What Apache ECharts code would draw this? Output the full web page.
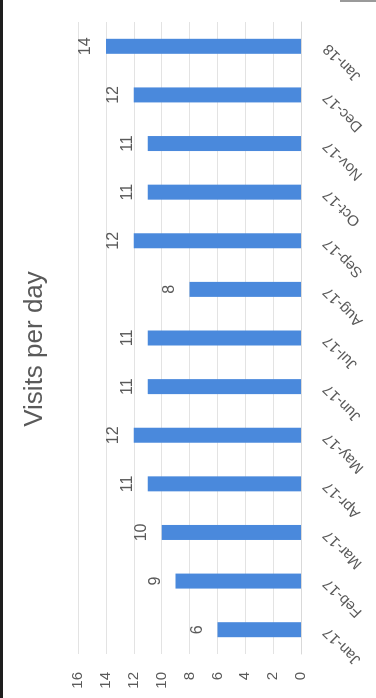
<!DOCTYPE html>
<html>
<head>
<meta charset="utf-8">
<script src="https://cdn.jsdelivr.net/npm/echarts@6/dist/echarts.min.js"></script>
<style>
  html, body { margin: 0; padding: 0; background: #fff; overflow: hidden; }
  body { width: 376px; height: 698px; position: relative; }
  /* The chart is laid out as a normal column chart and turned a quarter turn
     counter-clockwise so that it stands on the page like a scanned sheet. */
  #chart {
    position: absolute; left: 0; top: 0;
    width: 698px; height: 376px;
    transform-origin: 0 0;
    transform: translateY(698px) rotate(-90deg);
  }
</style>
</head>
<body>
<div id="chart"></div>
<script>
const months = ['Jan-17', 'Feb-17', 'Mar-17', 'Apr-17', 'May-17', 'Jun-17', 'Jul-17',
                'Aug-17', 'Sep-17', 'Oct-17', 'Nov-17', 'Dec-17', 'Jan-18'];
const visits = [6, 9, 10, 11, 12, 11, 11, 8, 12, 11, 11, 12, 14];
const valueTicks = [0, 2, 4, 6, 8, 10, 12, 14, 16];
const chartTitle = 'Visits per day';

const textGray = '#5a5a5a';
const fontFamily = '"Liberation Sans", Arial, sans-serif';

const chart = echarts.init(document.getElementById('chart'), null, { renderer: 'canvas' });

chart.setOption({
  backgroundColor: '#ffffff',
  animation: false,
  title: {
    text: chartTitle,
    left: 'center',
    top: 22,
    padding: 0,
    textStyle: { color: textGray, fontSize: 26, fontWeight: 'normal', fontFamily: fontFamily }
  },
  grid: { left: 44, right: 22, top: 78, bottom: 75, containLabel: false },
  xAxis: {
    type: 'category',
    data: months,
    axisLine: { show: true, lineStyle: { color: '#d9d9d9', width: 1 } },
    axisTick: { show: false },
    axisLabel: {
      rotate: 45,
      margin: 25,
      color: textGray,
      fontSize: 15,
      fontFamily: fontFamily
    }
  },
  yAxis: {
    type: 'value',
    min: valueTicks[0],
    max: valueTicks[valueTicks.length - 1],
    interval: valueTicks[1] - valueTicks[0],
    axisLine: { show: false },
    axisTick: { show: false },
    axisLabel: { margin: 18, color: textGray, fontSize: 15, fontFamily: fontFamily },
    splitLine: { show: true, lineStyle: { color: '#e3e3e3', width: 1 } }
  },
  series: [{
    type: 'bar',
    data: visits,
    barWidth: 15,
    itemStyle: { color: '#4a89dc' },
    label: {
      show: true,
      position: 'top',
      distance: 12,
      color: textGray,
      fontSize: 16,
      fontFamily: fontFamily
    }
  }],
  graphic: [
    // dark edge of the sheet along the top of the chart
    { type: 'rect', shape: { x: 0, y: 0, width: 698, height: 3 }, style: { fill: '#1e1e1e' }, silent: true },
    // faint grey edge in the far corner
    { type: 'rect', shape: { x: 696, y: 340, width: 2, height: 36 }, style: { fill: '#9a9a9a' }, silent: true }
  ]
});
</script>
</body>
</html>
